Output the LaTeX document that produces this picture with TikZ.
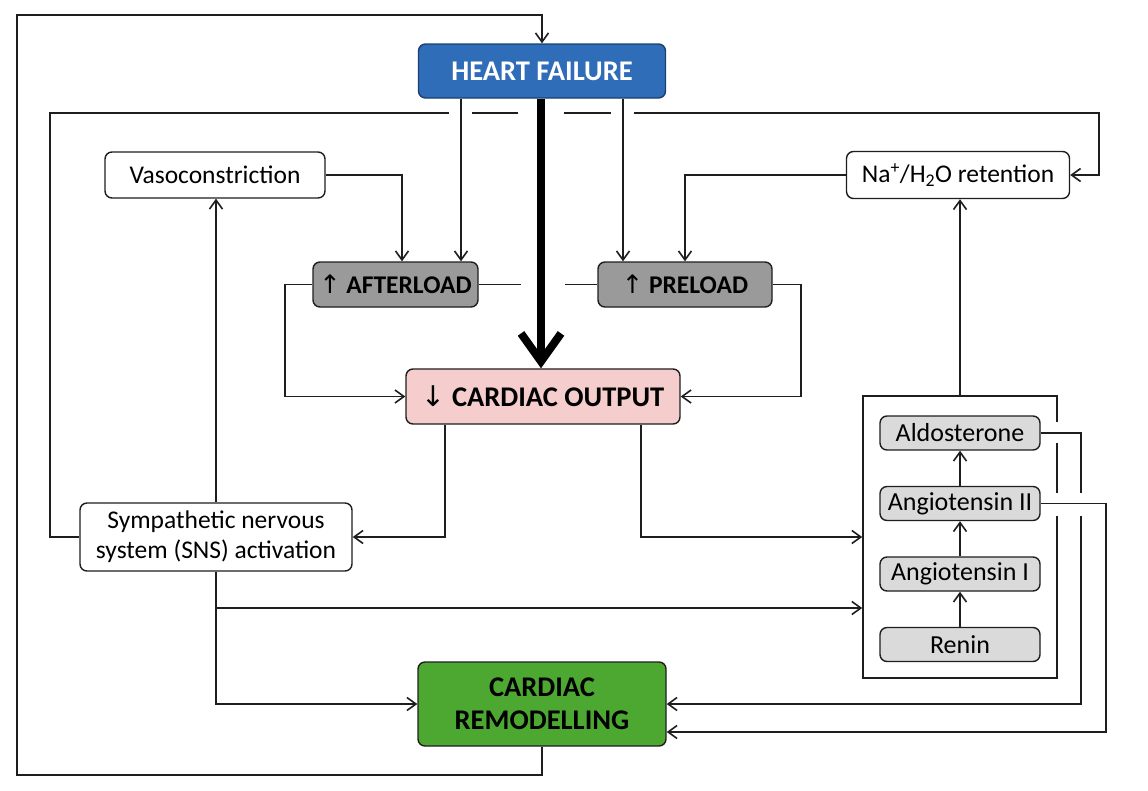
\documentclass[tikz,border=0pt]{standalone}
\usepackage{fontspec}
\setmainfont{Carlito}
\newfontfamily\symfont{DejaVu Sans}
\usetikzlibrary{arrows.meta}
\definecolor{hfblue}{HTML}{2F6DB9}
\definecolor{hfedge}{HTML}{1C3F6E}
\definecolor{loadgray}{HTML}{9A9A9A}
\definecolor{copink}{HTML}{F4CDCC}
\definecolor{remgreen}{HTML}{4DA832}
\definecolor{raasgray}{HTML}{DADADA}
\definecolor{edge}{HTML}{1E1E1E}
\tikzset{
  box/.style={draw=edge, line width=1.4pt, rounded corners=7pt, inner sep=0pt, align=center,
    font=\fontsize{25.5}{30}\selectfont},
  plainbox/.style={box, fill=white},
  bigbox/.style={box, font=\fontsize{28.5}{33}\selectfont\bfseries},
  loadbox/.style={box, fill=loadgray, font=\fontsize{25.5}{30}\selectfont\bfseries},
  raasbox/.style={box, fill=raasgray, minimum width=160pt, minimum height=34pt,
    font=\fontsize{26}{30}\selectfont},
  wire/.style={line width=1.6pt, draw=edge},
  conn/.style={wire, -{Straight Barb[length=9pt,width=13pt]}},
  mask/.style={fill=white}
}
\begin{document}
\begin{tikzpicture}[x=1pt,y=-1pt]
\useasboundingbox (0,0) rectangle (1148,790);

% nodes
\node[bigbox, fill=hfblue, draw=hfedge, text=white,
      minimum width=247pt, minimum height=54pt] (hf) at (542,71) {HEART FAILURE};
\node[plainbox, minimum width=220pt, minimum height=46pt] (vaso) at (215,175) {Vasoconstriction};
\node[plainbox, minimum width=223pt, minimum height=47pt] (na) at (958,175)
      {Na\textsuperscript{+}/H\textsubscript{2}O retention};
\node[loadbox, minimum width=165pt, minimum height=45pt] (after) at (395.5,284.5)
      {{\symfont\mdseries ↑} AFTERLOAD};
\node[loadbox, minimum width=174pt, minimum height=45pt] (pre) at (685,284.5)
      {{\symfont\mdseries ↑} PRELOAD};
\node[bigbox, fill=copink,
      minimum width=274pt, minimum height=55pt] (co) at (543,396.5)
      {{\symfont\mdseries ↓} CARDIAC OUTPUT};
\node[plainbox, minimum width=272pt, minimum height=68pt] (sns) at (216,537)
      {Sympathetic nervous\\system (SNS) activation};
\node[bigbox, fill=remgreen,
      minimum width=248pt, minimum height=84pt] (rem) at (542,704)
      {CARDIAC\\REMODELLING};
\node[draw=edge, line width=1.6pt, minimum width=194pt, minimum height=282pt, inner sep=0pt]
      (raas) at (960,537) {};
\node[raasbox] (aldo) at (960,433) {Aldosterone};
\node[raasbox] (ang2) at (960,503.5) {Angiotensin II};
\node[raasbox] (ang1) at (960,574) {Angiotensin I};
\node[raasbox] (renin) at (960,644.5) {Renin};

% outer loop: remodelling -> heart failure
\draw[conn] (rem.south) -- (542,775) -- (17,775) -- (17,15) -- (542,15) -- (hf.north);

% SNS -> Na/H2O retention (long loop)
\draw[conn] (sns.west) -- (50,537) -- (50,113) -- (1099,113) -- (1099,175) -- (na.east);

% afterload -- preload link
\draw[wire] (after.east) -- (pre.west);

% gaps at crossings
\fill[mask] (449,109) rectangle (472,117);
\fill[mask] (518,109) rectangle (564,117);
\fill[mask] (611,109) rectangle (634,117);
\fill[mask] (521,280) rectangle (565,288);
\fill[mask] (1053,422) rectangle (1061,443);
\fill[mask] (1053,493) rectangle (1061,516);

% heart failure -> afterload / preload / cardiac output
\draw[conn] (hf.south -| 461,0) -- (after.north -| 461,0);
\draw[conn] (hf.south -| 623,0) -- (pre.north -| 623,0);
\draw[line width=8pt, -{Straight Barb[length=28pt,width=40pt]}] (hf.south -| 541,0) -- (co.north -| 541,0);

% vasoconstriction -> afterload
\draw[conn] (vaso.east) -- (402,175) -- (after.north -| 402,0);
% Na/H2O -> preload
\draw[conn] (na.west) -- (685,175) -- (pre.north);

% afterload / preload -> cardiac output
\draw[conn] (after.west) -- (285,284.5) -- (285,396.5) -- (co.west);
\draw[conn] (pre.east) -- (801,284.5) -- (801,396.5) -- (co.east);

% cardiac output -> SNS / RAAS
\draw[conn] (co.south -| 445,0) -- (445,537) -- (sns.east);
\draw[conn] (co.south -| 641,0) -- (641,537) -- (raas.west);

% SNS -> vasoconstriction, RAAS, remodelling
\draw[conn] (sns.north) -- (vaso.south -| sns.north);
\draw[conn] (sns.south) -- (216,608) -- (raas.west |- 0,608);
\draw[conn] (216,608) -- (216,704) -- (rem.west);

% RAAS cascade
\draw[conn] (renin.north) -- (ang1.south);
\draw[conn] (ang1.north) -- (ang2.south);
\draw[conn] (ang2.north) -- (aldo.south);
\draw[conn] (raas.north) -- (na.south -| raas.north);

% aldosterone / angiotensin II -> remodelling
\draw[conn] (aldo.east) -- (1081,433) -- (1081,704) -- (rem.east |- 0,704);
\fill[mask] (1077,493) rectangle (1085,516);
\draw[conn] (ang2.east) -- (1106,503.5) -- (1106,732) -- (rem.east |- 0,732);
\end{tikzpicture}
\end{document}
